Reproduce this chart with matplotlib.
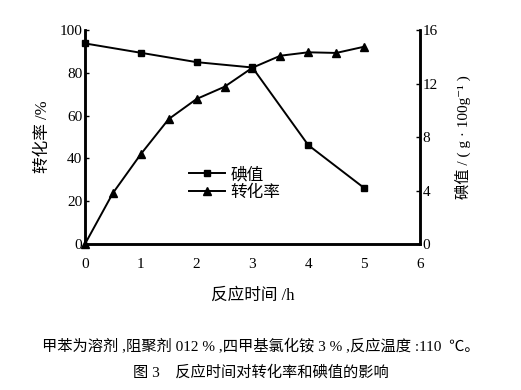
import matplotlib
matplotlib.use("Agg")
import matplotlib.pyplot as plt

plt.rcParams['font.family'] = ['Liberation Serif', 'Noto Sans CJK SC', 'DejaVu Serif']

# 碘值 (right axis) and 转化率 (left axis)
t_iod = [0, 1, 2, 3, 4, 5]
iodine = [15.0, 14.3, 13.6, 13.2, 7.4, 4.2]
t_conv = [0, 0.5, 1, 1.5, 2, 2.5, 3, 3.5, 4, 4.5, 5]
conv = [0, 23.8, 42, 58.4, 67.8, 73.5, 82.4, 88, 89.6, 89.3, 92.2]

xticks = [0, 1, 2, 3, 4, 5, 6]
lticks = [0, 20, 40, 60, 80, 100]
rticks = [0, 4, 8, 12, 16]

fig = plt.figure(figsize=(5.21, 3.90), dpi=100)
ax = fig.add_axes([0.163, 0.374, 0.643, 0.549])
ax2 = ax.twinx()

l2, = ax.plot(t_conv, conv, '-^', color='black', lw=1.4, ms=6, clip_on=False, zorder=3)
l1, = ax2.plot(t_iod, iodine, '-s', color='black', lw=1.4, ms=5, clip_on=False, zorder=3)

ax.set_xlim(0, 6)
ax.set_ylim(0, 100)
ax2.set_ylim(0, 16)
ax.set_xticks(xticks)
ax.set_yticks(lticks)
ax2.set_yticks(rticks)

for a in (ax, ax2):
    a.spines['top'].set_visible(False)
    for s in a.spines.values():
        s.set_linewidth(1.8)
    a.tick_params(direction='in', length=3, width=1, labelsize=11)
ax.tick_params(axis='x', length=0, pad=10)
ax2.tick_params(axis='y', pad=2)
ax.tick_params(axis='y', pad=2)

ax.set_ylabel('转化率 /%', fontsize=12, labelpad=6)
ax2.set_ylabel('碘值 / ( g · 100g⁻¹ )', fontsize=11, labelpad=12)
ax.set_xlabel('反应时间 /h', fontsize=12, labelpad=12)

ax.legend([l1, l2], ['碘值', '转化率'], loc='upper left', bbox_to_anchor=(0.29, 0.39),
          frameon=False, fontsize=12, handlelength=2.2, handletextpad=0.3,
          labelspacing=0.1, borderaxespad=0)

fig.text(0.5, 0.11, '甲苯为溶剂 ,阻聚剂 012 % ,四甲基氯化铵 3 % ,反应温度 :110  ℃。',
         ha='center', va='center', fontsize=11)
fig.text(0.5, 0.045, '图 3    反应时间对转化率和碘值的影响', ha='center', va='center', fontsize=11)

fig.savefig('out.png', dpi=100)
